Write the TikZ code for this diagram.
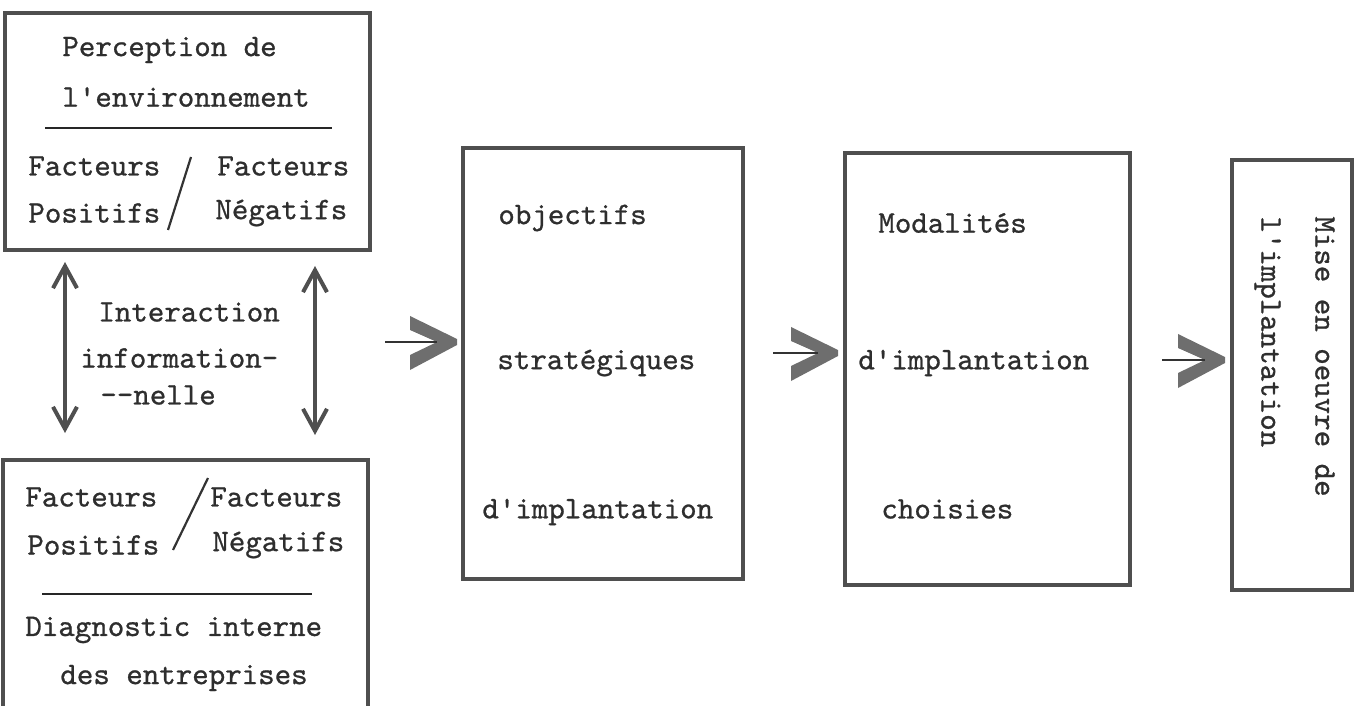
\documentclass[tikz,border=0pt]{standalone}
\usepackage{fontspec}
\usetikzlibrary{arrows.meta,fit}
\newfontfamily\typer{lmmono10-regular.otf}[FakeBold=0.8]
\definecolor{ink}{HTML}{2E2E2E}
\definecolor{frame}{HTML}{4F4F4F}
\definecolor{chevfill}{HTML}{6E6E6E}
\tikzset{
  box/.style={draw=frame,line width=2pt,inner sep=0pt},
  lbl/.style={inner sep=0pt,text=ink,anchor=west,
    font=\typer\fontsize{15.7}{19}\selectfont},
  rule/.style={draw=black!85,line width=1pt},
  slash/.style={draw=black!80,line width=1.1pt},
  link/.style={draw=frame,line width=2pt,
    {Straight Barb[length=11pt,width=12pt]}-{Straight Barb[length=11pt,width=12pt]}},
  shaft/.style={draw=black!80,line width=1.2pt},
  chevron/.pic={\fill[chevfill] (-47,-26) -- (0,-3) -- (0,3) -- (-47,28)
      -- (-47,13) -- (-20,0) -- (-47,-12) -- cycle;},
}
\begin{document}
\begin{tikzpicture}[x=0.5pt,y=-0.5pt]
\useasboundingbox (0,0) rectangle (1357,706);
\clip (0,0) rectangle (1357,706);

% environment box
\node[box,fit={(5,13) (370,250)}] (env) {};
\node[lbl] (env1) at (62,50) {Perception de};
\node[lbl] (env2) at (62,97) {l'environnement};
\draw[rule] (45,128) -- (332,128);
\node[lbl] (envpl) at (28,166) {Facteurs};
\node[lbl] (envpr) at (217,166) {Facteurs};
\node[lbl] (envnl) at (28,213) {Positifs};
\node[lbl] (envnr) at (215,213) {Négatifs};
\draw[slash] (191,157) -- (168,230);

% internal diagnosis box (runs past the lower edge)
\node[box,fit={(3,460) (368,720)}] (diag) {};
\node[lbl] (diagpl) at (25,497) {Facteurs};
\node[lbl] (diagpr) at (210,497) {Facteurs};
\node[lbl] (diagnl) at (27,545) {Positifs};
\node[lbl] (diagnr) at (212,545) {Négatifs};
\draw[slash] (208,478) -- (173,550);
\draw[rule] (42,594) -- (312,594);
\node[lbl] (diag1) at (25,630) {Diagnostic interne};
\node[lbl] (diag2) at (60,678) {des entreprises};

% information exchange between the two boxes
\coordinate (la) at (65,262);
\coordinate (lb) at (65,433);
\coordinate (ra) at (315,266);
\coordinate (rb) at (315,435);
\draw[link] (la) -- (lb);
\draw[link] (ra) -- (rb);
\node[lbl] (int1) at (98,312) {Interaction};
\node[lbl] (int2) at (80,358) {information-};
\node[lbl] (int3) at (100,395) {-{}-nelle};

% strategic objectives
\node[box,fit={(463,148) (743,579)}] (obj) {};
\node[lbl] (obj1) at (498,218) {objectifs};
\node[lbl] (obj2) at (497,363) {stratégiques};
\node[lbl] (obj3) at (482,512) {d'implantation};

% chosen modalities
\node[box,fit={(845,153) (1130,585)}] (mod) {};
\node[lbl] (mod1) at (878,223) {Modalités};
\node[lbl] (mod2) at (858,363) {d'implantation};
\node[lbl] (mod3) at (881,509) {choisies};

% implementation
\node[box,fit={(1232,160) (1352,590)}] (imp) {};
\node[lbl,rotate=-90,anchor=north west,align=left,
      font=\typer\fontsize{15.7}{27}\selectfont] (imp1) at (1335,216)
      {Mise en oeuvre de\\l'implantation};

% chevron arrows between the stages
\coordinate (s1) at (385,342);
\coordinate (t1) at (457,342);
\coordinate (s2) at (773,353);
\coordinate (t2) at (838,353);
\coordinate (s3) at (1162,360);
\coordinate (t3) at (1225,360);
\pic at (t1) {chevron};
\pic at (t2) {chevron};
\pic at (t3) {chevron};
\draw[shaft] (s1) -- ([xshift=-10pt]t1);
\draw[shaft] (s2) -- ([xshift=-10pt]t2);
\draw[shaft] (s3) -- ([xshift=-10pt]t3);
\end{tikzpicture}
\end{document}
